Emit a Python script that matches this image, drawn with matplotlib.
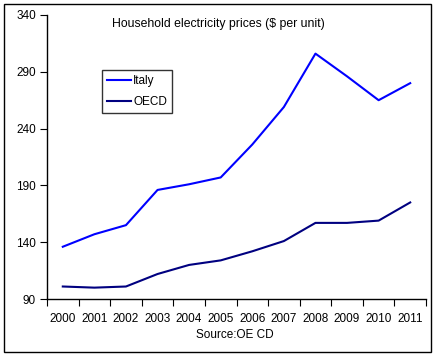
import matplotlib
matplotlib.use("Agg")
import matplotlib.pyplot as plt
from matplotlib.patches import Rectangle
import numpy as np

years = ["2000", "2001", "2002", "2003", "2004", "2005", "2006", "2007", "2008", "2009", "2010", "2011"]
italy = [136, 147, 155, 186, 191, 197, 226, 259, 306, 286, 265, 280]
oecd = [101, 100, 101, 112, 120, 124, 132, 141, 157, 157, 159, 175]
yticks = [90, 140, 190, 240, 290, 340]

plt.rcParams['font.family'] = ['Liberation Sans', 'DejaVu Sans']
fig = plt.figure(figsize=(4.36, 3.56), dpi=100)
ax = fig.add_axes([47/436, 1-299/356, 379/436, 284/356])
x = np.arange(len(years))
ax.plot(x, italy, color="#0000FF", lw=1.5, label="Italy")
ax.plot(x, oecd, color="#000080", lw=1.5, label="OECD")
ax.set_xlim(-0.5, len(years)-0.5)
ax.set_ylim(90, 340)
ax.set_yticks(yticks)
ax.set_yticklabels([str(v) for v in yticks], fontsize=8.5)
ax.set_xticks(np.arange(-0.5, len(years), 1.0))
ax.set_xticklabels([])
ax.set_xticks(x, minor=True)
ax.set_xticklabels(years, minor=True, fontsize=8.5)
ax.tick_params(axis='x', which='minor', length=0, pad=10)
ax.tick_params(axis='x', which='major', length=5, direction='out')
ax.tick_params(axis='y', length=5, direction='out', pad=3)
for s in ['top', 'right']:
    ax.spines[s].set_visible(False)
ax.spines['left'].set_linewidth(1)
ax.spines['bottom'].set_linewidth(1)
fig.text(218/436, 1-24/356, "Household electricity prices ($ per unit)",
         ha='center', va='center', fontsize=8.8)
leg = ax.legend(loc='upper left', bbox_to_anchor=(55/379, 1-55/284), fontsize=8.5,
                frameon=True, fancybox=False, edgecolor='black', handlelength=2.0,
                handletextpad=0.2, borderpad=0.45, labelspacing=0.75, borderaxespad=0)
leg.get_frame().set_linewidth(1)
fig.text(235/436, 1-335/356, "Source:OE CD", ha='center', va='center', fontsize=8.5)
fig.patches.append(Rectangle((4/436, 4/356), 427/436, 348/356, transform=fig.transFigure,
                             fill=False, edgecolor='black', lw=1))
fig.savefig("out.png", dpi=100)
